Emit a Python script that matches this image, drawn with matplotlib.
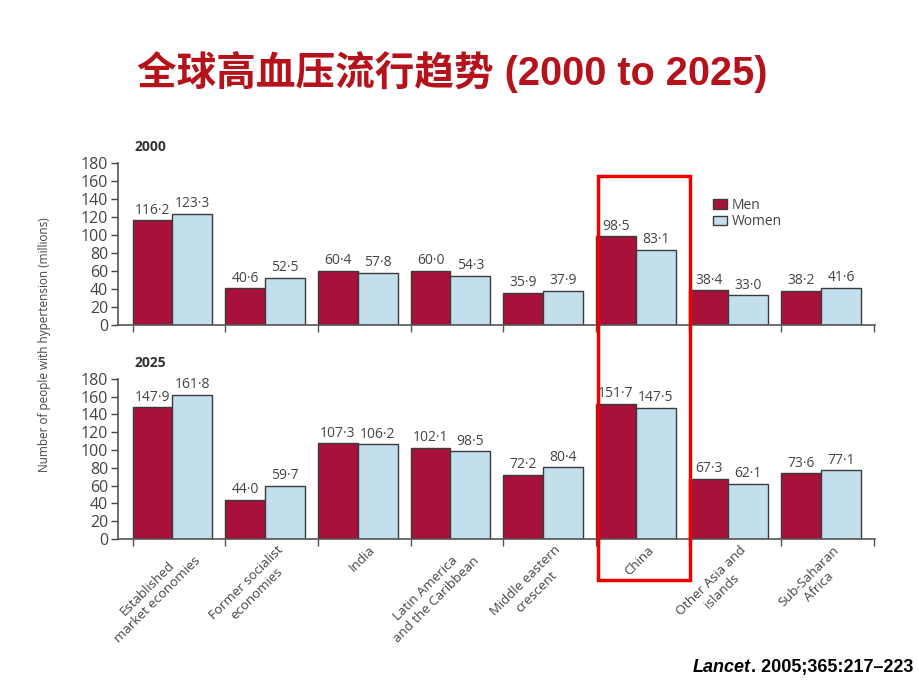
import numpy as np
import matplotlib.pyplot as plt
from matplotlib.patches import Rectangle

plt.rcParams['font.family'] = ['Open Sans', 'DejaVu Sans']

regions = ["Established\nmarket economies", "Former socialist\neconomies", "India",
           "Latin America\nand the Caribbean", "Middle eastern\ncrescent", "China",
           "Other Asia and\nislands", "Sub-Saharan\nAfrica"]

men_2000 = [116.2, 40.6, 60.4, 60.0, 35.9, 98.5, 38.4, 38.2]
women_2000 = [123.3, 52.5, 57.8, 54.3, 37.9, 83.1, 33.0, 41.6]
men_2025 = [147.9, 44.0, 107.3, 102.1, 72.2, 151.7, 67.3, 73.6]
women_2025 = [161.8, 59.7, 106.2, 98.5, 80.4, 147.5, 62.1, 77.1]

men_color = "#A8123A"
women_color = "#C3DFEE"
edge = "#3a3a3a"
text_gray = "#444444"

fig = plt.figure(figsize=(9.2, 6.9), dpi=100)
fig.patch.set_facecolor("white")

fig.text(0.492, 0.895, "全球高血压流行趋势 (2000 to 2025)", ha="center", va="center",
         fontsize=28.5, fontweight="bold", color="#B5121B",
         family=['Liberation Sans', 'Noto Sans CJK SC'])

x = np.arange(len(regions))
w = 0.43


def fmt(v):
    return f"{v:.1f}".replace(".", "·")


def draw_panel(ax, men, women, year, show_xlabels):
    ax.bar(x - w / 2, men, width=w, color=men_color, edgecolor=edge, linewidth=1.0)
    ax.bar(x + w / 2, women, width=w, color=women_color, edgecolor=edge, linewidth=1.0)
    for i in range(len(x)):
        ax.text(x[i] - w / 2, men[i] + 3, fmt(men[i]), ha="center", va="bottom",
                fontsize=10, color=text_gray)
        ax.text(x[i] + w / 2, women[i] + 3, fmt(women[i]), ha="center", va="bottom",
                fontsize=10, color=text_gray)
    ax.set_xlim(-0.59, 7.58)
    ax.set_ylim(0, 180)
    ax.set_yticks(range(0, 181, 20))
    ax.tick_params(axis="y", labelsize=11.5, colors=text_gray, length=5, width=1, pad=2)
    ax.set_xticks(np.arange(len(x) + 1) - w)
    ax.tick_params(axis="x", length=5, width=1, color="#555555")
    ax.set_xticklabels([])
    if show_xlabels:
        for i, lab in enumerate(regions):
            ax.text(x[i] + 0.12, -5, lab, rotation=45, ha="right", va="top",
                    multialignment="center", fontsize=9.5, color=text_gray,
                    rotation_mode="anchor")
    for s in ["top", "right"]:
        ax.spines[s].set_visible(False)
    for s in ["left", "bottom"]:
        ax.spines[s].set_color("#555555")
        ax.spines[s].set_linewidth(1.2)
    ax.text(0.022, 1.10, year, transform=ax.transAxes, fontsize=10, fontweight="bold",
            color="#333333", ha="left", va="center")


ax1 = fig.add_axes([0.128, 0.529, 0.823, 0.235])
draw_panel(ax1, men_2000, women_2000, "2000", False)

ax2 = fig.add_axes([0.128, 0.219, 0.823, 0.232])
draw_panel(ax2, men_2025, women_2025, "2025", True)

handles = [Rectangle((0, 0), 1, 1, facecolor=men_color, edgecolor=edge),
           Rectangle((0, 0), 1, 1, facecolor=women_color, edgecolor=edge)]
ax1.legend(handles, ["Men", "Women"], loc="upper left", bbox_to_anchor=(0.77, 0.86),
           frameon=False, fontsize=10, handlelength=1.0, handleheight=0.7,
           handletextpad=0.3, labelspacing=0.1, labelcolor=text_gray)

fig.text(0.048, 0.50, "Number of people with hypertension (millions)", rotation=90,
         ha="center", va="center", fontsize=8.5, color=text_gray)

# highlight box around China
fig.add_artist(Rectangle((598 / 920, 1 - 580 / 690), 92 / 920, 404 / 690,
                         transform=fig.transFigure, fill=False,
                         edgecolor="#EE0000", linewidth=2.5))

# citation: italic journal name followed by the reference
t1 = fig.text(0.753, 0.032, "Lancet", fontsize=13, fontweight="bold", style="italic",
              ha="left", va="center", family="Liberation Sans")
fig.canvas.draw()
bb = t1.get_window_extent().transformed(fig.transFigure.inverted())
fig.text(bb.x1, 0.032, ". 2005;365:217–223", fontsize=13, fontweight="bold",
         ha="left", va="center", family="Liberation Sans")

plt.savefig("out.png", dpi=100)
